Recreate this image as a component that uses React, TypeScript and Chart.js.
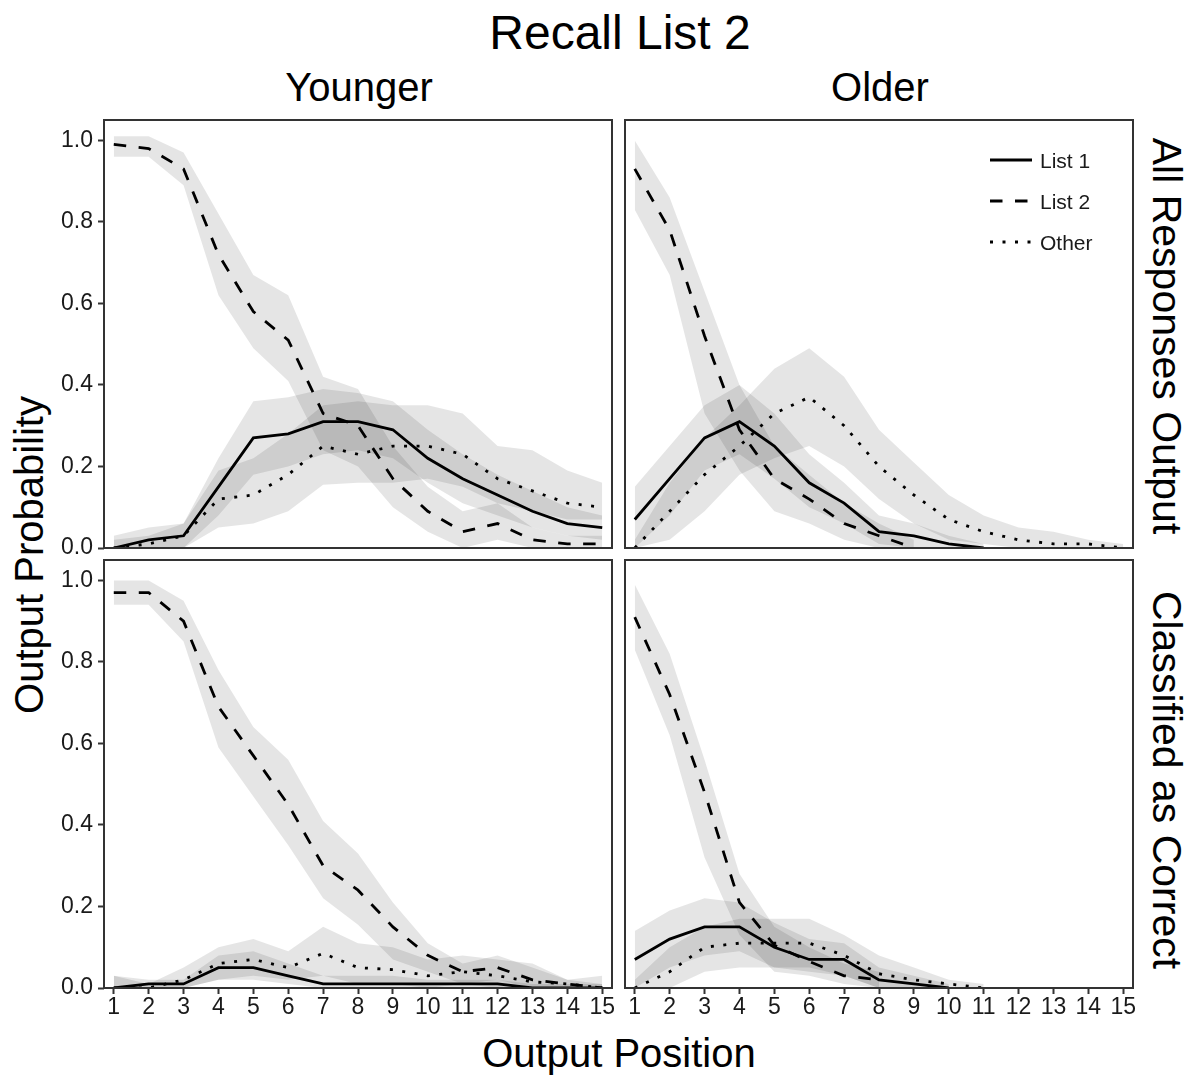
import React, { useEffect, useRef } from "react";
import { Chart, registerables } from "chart.js";

Chart.register(...registerables);

// ---------------- data ----------------
const POSITIONS = [1, 2, 3, 4, 5, 6, 7, 8, 9, 10, 11, 12, 13, 14, 15];
const X_TICKS = [1, 2, 3, 4, 5, 6, 7, 8, 9, 10, 11, 12, 13, 14, 15];
const Y_TICKS = [0, 0.2, 0.4, 0.6, 0.8, 1.0];
const SERIES = ["List 1", "List 2", "Other"];
const COLUMNS = ["Younger", "Older"];
const ROWS = ["All Responses Output", "Classified as Correct"];
const TITLE = "Recall List 2";
const X_TITLE = "Output Position";
const Y_TITLE = "Output Probability";

// Younger, All Responses Output
const YA_LIST1 = [0.0, 0.02, 0.03, 0.15, 0.27, 0.28, 0.31, 0.31, 0.29, 0.22, 0.17, 0.13, 0.09, 0.06, 0.05];
const YA_LIST1_LO = [0.0, 0.0, 0.0, 0.08, 0.18, 0.2, 0.23, 0.24, 0.22, 0.16, 0.11, 0.08, 0.05, 0.03, 0.02];
const YA_LIST1_HI = [0.03, 0.05, 0.06, 0.22, 0.36, 0.37, 0.39, 0.38, 0.36, 0.29, 0.23, 0.18, 0.14, 0.1, 0.08];
const YA_LIST2 = [0.99, 0.98, 0.93, 0.72, 0.58, 0.51, 0.33, 0.3, 0.17, 0.09, 0.04, 0.06, 0.02, 0.01, 0.01];
const YA_LIST2_LO = [0.96, 0.96, 0.89, 0.62, 0.49, 0.41, 0.24, 0.2, 0.1, 0.04, 0.0, 0.02, 0.0, 0.0, 0.0];
const YA_LIST2_HI = [1.01, 1.01, 0.97, 0.82, 0.67, 0.62, 0.42, 0.39, 0.25, 0.15, 0.09, 0.11, 0.05, 0.03, 0.03];
const YA_OTHER = [0.0, 0.01, 0.03, 0.12, 0.13, 0.18, 0.25, 0.23, 0.25, 0.25, 0.23, 0.17, 0.14, 0.11, 0.1];
const YA_OTHER_LO = [0.0, 0.0, 0.0, 0.05, 0.06, 0.09, 0.155, 0.16, 0.16, 0.17, 0.15, 0.11, 0.09, 0.07, 0.07];
const YA_OTHER_HI = [0.02, 0.03, 0.06, 0.19, 0.22, 0.28, 0.35, 0.36, 0.35, 0.35, 0.33, 0.25, 0.24, 0.19, 0.16];

// Older, All Responses Output
const OA_LIST1 = [0.07, 0.17, 0.27, 0.31, 0.25, 0.16, 0.11, 0.04, 0.03, 0.01, 0.0, null, null, null, null];
const OA_LIST1_LO = [0.0, 0.08, 0.19, 0.23, 0.17, 0.1, 0.06, 0.01, 0.0, 0.0, 0.0, null, null, null, null];
const OA_LIST1_HI = [0.15, 0.25, 0.35, 0.4, 0.33, 0.23, 0.16, 0.08, 0.06, 0.03, 0.01, null, null, null, null];
const OA_LIST2 = [0.93, 0.78, 0.52, 0.29, 0.17, 0.12, 0.06, 0.03, 0.0, null, null, null, null, null, null];
const OA_LIST2_LO = [0.83, 0.67, 0.33, 0.19, 0.09, 0.06, 0.02, 0.0, 0.0, null, null, null, null, null, null];
const OA_LIST2_HI = [1.0, 0.86, 0.63, 0.4, 0.25, 0.18, 0.11, 0.06, 0.02, null, null, null, null, null, null];
const OA_OTHER = [0.0, 0.09, 0.18, 0.25, 0.33, 0.37, 0.3, 0.2, 0.13, 0.07, 0.04, 0.02, 0.01, 0.01, 0.0];
const OA_OTHER_LO = [0.0, 0.02, 0.09, 0.18, 0.22, 0.25, 0.2, 0.12, 0.06, 0.02, 0.01, 0.0, 0.0, 0.0, 0.0];
const OA_OTHER_HI = [0.02, 0.16, 0.27, 0.35, 0.44, 0.49, 0.42, 0.29, 0.21, 0.13, 0.08, 0.05, 0.04, 0.02, 0.01];

// Younger, Classified as Correct
const YC_LIST1 = [0.0, 0.01, 0.01, 0.05, 0.05, 0.03, 0.01, 0.01, 0.01, 0.01, 0.01, 0.01, 0.0, 0.0, 0.0];
const YC_LIST1_LO = [0.0, 0.0, 0.0, 0.02, 0.02, 0.01, 0.0, 0.0, 0.0, 0.0, 0.0, 0.0, 0.0, 0.0, 0.0];
const YC_LIST1_HI = [0.03, 0.02, 0.02, 0.08, 0.09, 0.06, 0.03, 0.03, 0.03, 0.02, 0.02, 0.02, 0.01, 0.01, 0.01];
const YC_LIST2 = [0.97, 0.97, 0.9, 0.69, 0.57, 0.45, 0.3, 0.24, 0.15, 0.08, 0.04, 0.05, 0.02, 0.01, 0.0];
const YC_LIST2_LO = [0.94, 0.94, 0.85, 0.59, 0.47, 0.35, 0.22, 0.155, 0.07, 0.04, 0.01, 0.02, 0.0, 0.0, 0.0];
const YC_LIST2_HI = [1.0, 1.0, 0.95, 0.78, 0.64, 0.56, 0.41, 0.33, 0.21, 0.11, 0.06, 0.08, 0.05, 0.02, 0.01];
const YC_OTHER = [0.0, 0.0, 0.02, 0.06, 0.07, 0.05, 0.085, 0.05, 0.045, 0.03, 0.04, 0.03, 0.015, 0.01, 0.0];
const YC_OTHER_LO = [0.0, 0.0, 0.0, 0.02, 0.03, 0.02, 0.03, 0.01, 0.01, 0.0, 0.01, 0.0, 0.0, 0.0, 0.0];
const YC_OTHER_HI = [0.03, 0.01, 0.05, 0.1, 0.12, 0.09, 0.15, 0.11, 0.1, 0.07, 0.08, 0.07, 0.06, 0.02, 0.03];

// Older, Classified as Correct
const OC_LIST1 = [0.07, 0.12, 0.15, 0.15, 0.1, 0.07, 0.07, 0.02, 0.01, 0.0, null, null, null, null, null];
const OC_LIST1_LO = [0.0, 0.05, 0.08, 0.09, 0.05, 0.04, 0.03, 0.0, 0.0, 0.0, null, null, null, null, null];
const OC_LIST1_HI = [0.14, 0.19, 0.22, 0.21, 0.16, 0.12, 0.11, 0.05, 0.03, 0.01, null, null, null, null, null];
const OC_LIST2 = [0.91, 0.72, 0.48, 0.21, 0.105, 0.065, 0.03, 0.02, null, null, null, null, null, null, null];
const OC_LIST2_LO = [0.83, 0.62, 0.32, 0.13, 0.04, 0.03, 0.01, 0.0, null, null, null, null, null, null, null];
const OC_LIST2_HI = [0.99, 0.82, 0.56, 0.28, 0.15, 0.1, 0.06, 0.04, null, null, null, null, null, null, null];
const OC_OTHER = [0.0, 0.04, 0.1, 0.11, 0.11, 0.11, 0.08, 0.035, 0.02, 0.01, 0.0, null, null, null, null];
const OC_OTHER_LO = [0.0, 0.0, 0.04, 0.05, 0.05, 0.05, 0.03, 0.0, 0.0, 0.0, 0.0, null, null, null, null];
const OC_OTHER_HI = [0.02, 0.1, 0.15, 0.17, 0.17, 0.17, 0.13, 0.08, 0.05, 0.02, 0.01, null, null, null, null];

type Arr = (number | null)[];
type PanelDef = { col: number; row: number; mean: Arr[]; lo: Arr[]; hi: Arr[] };

const PANELS: PanelDef[] = [
  { col: 0, row: 0, mean: [YA_LIST1, YA_LIST2, YA_OTHER], lo: [YA_LIST1_LO, YA_LIST2_LO, YA_OTHER_LO], hi: [YA_LIST1_HI, YA_LIST2_HI, YA_OTHER_HI] },
  { col: 1, row: 0, mean: [OA_LIST1, OA_LIST2, OA_OTHER], lo: [OA_LIST1_LO, OA_LIST2_LO, OA_OTHER_LO], hi: [OA_LIST1_HI, OA_LIST2_HI, OA_OTHER_HI] },
  { col: 0, row: 1, mean: [YC_LIST1, YC_LIST2, YC_OTHER], lo: [YC_LIST1_LO, YC_LIST2_LO, YC_OTHER_LO], hi: [YC_LIST1_HI, YC_LIST2_HI, YC_OTHER_HI] },
  { col: 1, row: 1, mean: [OC_LIST1, OC_LIST2, OC_OTHER], lo: [OC_LIST1_LO, OC_LIST2_LO, OC_OTHER_LO], hi: [OC_LIST1_HI, OC_LIST2_HI, OC_OTHER_HI] },
];

// ---------------- layout / style ----------------
const FONT = "'Liberation Sans', Arial, Helvetica, sans-serif";
const X_MIN = 0.72;
const X_MAX = 15.28;
const Y_MIN = 0;
const Y_MAX = 1.05;
const PANEL_W = 508;
const PANEL_H = 428;
const COL_LEFT = [104, 625];
const ROW_TOP = [120, 560];
const AXIS_W = 104;
const AXIS_H = 44;
const PAD = 2;
const BOTTOM_ROOM = 16;
const TICK_FONT = 23;
const LINE_W = 2.8;
const LINE_DASH = [[], [12.5, 12.5], [3, 9.5]];
const RIBBON = "rgba(0,0,0,0.1)";
const TEXT_COLOR = "#1a1a1a";

const toXY = (arr: Arr) => POSITIONS.map((x, i) => ({ x, y: arr[i] === undefined ? null : arr[i] }));

const panelBorder = {
  id: "panelBorder",
  afterDraw(chart: any) {
    const { ctx, chartArea: a } = chart;
    ctx.save();
    ctx.strokeStyle = "#333";
    ctx.lineWidth = 2;
    ctx.strokeRect(a.left, a.top, a.right - a.left, a.bottom - a.top);
    ctx.restore();
  },
};

function PanelChart({ panel }: { panel: PanelDef }) {
  const ref = useRef<HTMLCanvasElement>(null);
  const showX = panel.row === 1;
  const showY = panel.col === 0;
  const bottomPad = showX ? 0 : BOTTOM_ROOM;
  const left = showY ? COL_LEFT[panel.col] - AXIS_W : COL_LEFT[panel.col] - PAD;
  const top = ROW_TOP[panel.row] - PAD;
  const width = (showY ? AXIS_W : PAD) + PANEL_W + PAD;
  const height = PAD + PANEL_H + (showX ? AXIS_H : bottomPad);

  useEffect(() => {
    if (!ref.current) return;
    const lines = SERIES.map((name, s) => ({
      label: name,
      data: toXY(panel.mean[s]),
      borderColor: "#000",
      backgroundColor: "#000",
      borderWidth: LINE_W,
      borderDash: LINE_DASH[s],
      pointRadius: 0,
      fill: false,
      tension: 0,
      spanGaps: false,
    }));
    const ribbons = SERIES.flatMap((name, s) => [
      {
        label: name + " upper",
        data: toXY(panel.hi[s]),
        borderColor: "rgba(0,0,0,0)",
        borderWidth: 0,
        pointRadius: 0,
        fill: "+1",
        backgroundColor: RIBBON,
        tension: 0,
        spanGaps: false,
      },
      {
        label: name + " lower",
        data: toXY(panel.lo[s]),
        borderColor: "rgba(0,0,0,0)",
        borderWidth: 0,
        pointRadius: 0,
        fill: false,
        backgroundColor: "rgba(0,0,0,0)",
        tension: 0,
        spanGaps: false,
      },
    ]);

    const chart = new Chart(ref.current, {
      type: "line",
      data: { datasets: [...lines, ...ribbons] as any },
      plugins: [panelBorder],
      options: {
        responsive: false,
        animation: false,
        devicePixelRatio: 1,
        layout: {
          padding: { left: showY ? 0 : PAD, right: PAD, top: PAD, bottom: bottomPad },
        },
        plugins: {
          legend: { display: false },
          tooltip: { enabled: false },
          filler: { drawTime: "beforeDatasetsDraw" },
        } as any,
        scales: {
          x: {
            type: "linear",
            min: X_MIN,
            max: X_MAX,
            display: showX,
            grid: { drawOnChartArea: false, drawTicks: true, tickLength: 6, tickWidth: 2, tickColor: "#333" },
            border: { display: false },
            ticks: {
              font: { family: FONT, size: TICK_FONT },
              color: TEXT_COLOR,
              padding: 0,
              autoSkip: false,
              maxRotation: 0,
              minRotation: 0,
              callback: (v: any) => String(v),
            },
            afterBuildTicks: (s: any) => {
              s.ticks = X_TICKS.map((value) => ({ value }));
            },
            afterFit: (s: any) => {
              s.height = showX ? AXIS_H : 0;
              s.paddingLeft = 0;
              s.paddingRight = 0;
            },
          },
          y: {
            type: "linear",
            min: Y_MIN,
            max: Y_MAX,
            display: showY,
            grid: { drawOnChartArea: false, drawTicks: true, tickLength: 6, tickWidth: 2, tickColor: "#333" },
            border: { display: false },
            ticks: {
              font: { family: FONT, size: TICK_FONT },
              color: TEXT_COLOR,
              padding: 5,
              autoSkip: false,
              callback: (v: any) => Number(v).toFixed(1),
            },
            afterBuildTicks: (s: any) => {
              s.ticks = Y_TICKS.map((value) => ({ value }));
            },
            afterFit: (s: any) => {
              s.width = showY ? AXIS_W : 0;
              s.paddingTop = 0;
              s.paddingBottom = 0;
            },
          },
        } as any,
      },
    });
    return () => chart.destroy();
  }, []);

  return (
    <canvas
      ref={ref}
      width={width}
      height={height}
      style={{ position: "absolute", left, top, width, height }}
    />
  );
}

const LEGEND_X = 990;
const LEGEND_Y = [160, 201, 242];

function Legend() {
  return (
    <>
      {SERIES.map((name, s) => (
        <React.Fragment key={name}>
          <svg
            width={42}
            height={10}
            style={{ position: "absolute", left: LEGEND_X, top: LEGEND_Y[s] - 5 }}
          >
            <line
              x1={0}
              y1={5}
              x2={42}
              y2={5}
              stroke="#000"
              strokeWidth={LINE_W}
              strokeDasharray={LINE_DASH[s].length ? LINE_DASH[s].join(" ") : undefined}
            />
          </svg>
          <div
            style={{
              position: "absolute",
              left: LEGEND_X + 50,
              top: LEGEND_Y[s] - 10,
              fontFamily: FONT,
              fontSize: 21,
              lineHeight: 1,
              color: TEXT_COLOR,
              whiteSpace: "nowrap",
            }}
          >
            {name}
          </div>
        </React.Fragment>
      ))}
    </>
  );
}

const textBase: React.CSSProperties = {
  position: "absolute",
  fontFamily: FONT,
  lineHeight: 1,
  color: "#000",
  whiteSpace: "nowrap",
};

export default function App() {
  return (
    <div
      style={{
        position: "absolute",
        left: 0,
        top: 0,
        width: 1199,
        height: 1079,
        background: "#fff",
        overflow: "hidden",
      }}
    >
      <div style={{ ...textBase, left: 620, top: 9, fontSize: 48, transform: "translateX(-50%)" }}>{TITLE}</div>
      <div style={{ ...textBase, left: 359, top: 67, fontSize: 40, transform: "translateX(-50%)" }}>{COLUMNS[0]}</div>
      <div style={{ ...textBase, left: 880, top: 67, fontSize: 40, transform: "translateX(-50%)" }}>{COLUMNS[1]}</div>
      <div
        style={{ ...textBase, left: 1166, top: 336, fontSize: 41, transform: "translate(-50%, -50%) rotate(90deg)" }}
      >
        {ROWS[0]}
      </div>
      <div
        style={{ ...textBase, left: 1166, top: 780, fontSize: 41, transform: "translate(-50%, -50%) rotate(90deg)" }}
      >
        {ROWS[1]}
      </div>
      <div
        style={{ ...textBase, left: 29, top: 555, fontSize: 40, transform: "translate(-50%, -50%) rotate(-90deg)" }}
      >
        {Y_TITLE}
      </div>
      <div style={{ ...textBase, left: 619, top: 1033, fontSize: 40, transform: "translateX(-50%)" }}>{X_TITLE}</div>
      {PANELS.map((p) => (
        <PanelChart key={`${p.col}-${p.row}`} panel={p} />
      ))}
      <Legend />
    </div>
  );
}
